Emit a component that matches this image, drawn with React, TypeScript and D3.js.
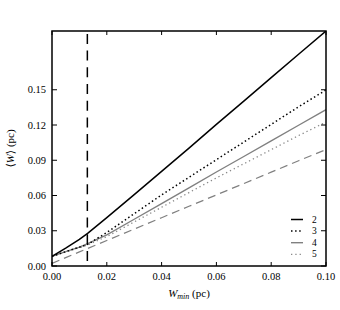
import * as d3 from "d3";

// W_min (pc) sample points shared by every series
const wMin = [0, 0.005, 0.01, 0.013, 0.02, 0.03, 0.04, 0.05, 0.06, 0.07, 0.08, 0.09, 0.1];

const series2 = [0.0083, 0.0152, 0.0226, 0.0278, 0.0412, 0.0608, 0.0805, 0.1003, 0.1205, 0.1403, 0.1603, 0.1802, 0.2];
const series3 = [0.0083, 0.0122, 0.016, 0.0184, 0.0285, 0.0445, 0.0605, 0.0755, 0.0905, 0.1055, 0.1205, 0.1355, 0.1498];
const series4 = [0.0083, 0.0122, 0.016, 0.019, 0.0265, 0.0398, 0.053, 0.0665, 0.08, 0.0932, 0.1065, 0.1198, 0.133];
const series5 = [0.0083, 0.012, 0.0155, 0.018, 0.025, 0.0375, 0.05, 0.0625, 0.075, 0.087, 0.099, 0.111, 0.1225];
const identity = [0.0022, 0.0071, 0.012, 0.0149, 0.0217, 0.0314, 0.0411, 0.0508, 0.0605, 0.0702, 0.0799, 0.0896, 0.0991];

const cutoff = 0.0129;

const xTicks = [0, 0.02, 0.04, 0.06, 0.08, 0.1];
const yTicks = [0, 0.03, 0.06, 0.09, 0.12, 0.15];

const legendLabels = ["2", "3", "4", "5"];

const font = "'Liberation Serif', 'DejaVu Serif', serif";

export default function App() {
  const width = 340;
  const height = 310;
  const margin = { left: 52, right: 14, top: 31, bottom: 44 };

  const x = d3.scaleLinear().domain([0, 0.1]).range([margin.left, width - margin.right]);
  const y = d3.scaleLinear().domain([0, 0.2]).range([height - margin.bottom, margin.top]);

  const line = (vals: number[]) =>
    d3
      .line<number>()
      .x((_, i) => x(wMin[i]))
      .y((d) => y(d))(vals) ?? "";

  const lines = [
    { vals: identity, stroke: "#808080", width: 1.2, dash: "8,5", legend: false },
    { vals: series5, stroke: "#8a8a8a", width: 1.3, dash: "1.3,3", legend: true },
    { vals: series4, stroke: "#808080", width: 1.4, dash: "", legend: true },
    { vals: series3, stroke: "#000", width: 1.5, dash: "1.5,2.6", legend: true },
    { vals: series2, stroke: "#000", width: 1.5, dash: "", legend: true },
  ];
  const legendStyles = [lines[4], lines[3], lines[2], lines[1]];

  const x0 = margin.left;
  const x1 = width - margin.right;
  const y0 = height - margin.bottom;
  const y1 = margin.top;

  return (
    <>
      <style>{"body{margin:0}"}</style>
      <svg width={width} height={height} style={{ display: "block", background: "#fff" }}>
        <defs>
          <clipPath id="plot">
            <rect x={x0} y={y1} width={x1 - x0} height={y0 - y1} />
          </clipPath>
        </defs>
        <g clipPath="url(#plot)">
          {lines.map((l, i) => (
            <path
              key={i}
              d={line(l.vals)}
              fill="none"
              stroke={l.stroke}
              strokeWidth={l.width}
              strokeDasharray={l.dash || undefined}
            />
          ))}
          <line
            x1={x(cutoff)}
            x2={x(cutoff)}
            y1={y0}
            y2={y1}
            stroke="#000"
            strokeWidth={1.5}
            strokeDasharray="10,6.7"
            strokeDashoffset={-5}
          />
        </g>

        {/* ticks, pointing inward on all four sides */}
        {xTicks.map((t) => (
          <g key={"x" + t}>
            <line x1={x(t)} x2={x(t)} y1={y0} y2={y0 - 4} stroke="#000" strokeWidth={1} />
            <line x1={x(t)} x2={x(t)} y1={y1} y2={y1 + 4} stroke="#000" strokeWidth={1} />
            <text
              x={x(t)}
              y={y0 + 14}
              textAnchor="middle"
              fontFamily={font}
              fontSize={10.5}
              fill="#000"
            >
              {t.toFixed(2)}
            </text>
          </g>
        ))}
        {yTicks.map((t) => (
          <g key={"y" + t}>
            <line x1={x0} x2={x0 + 5} y1={y(t)} y2={y(t)} stroke="#000" strokeWidth={1} />
            <line x1={x1} x2={x1 - 5} y1={y(t)} y2={y(t)} stroke="#000" strokeWidth={1} />
            <text
              x={x0 - 6}
              y={y(t)}
              textAnchor="end"
              dominantBaseline="central"
              fontFamily={font}
              fontSize={10.5}
              fill="#000"
            >
              {t.toFixed(2)}
            </text>
          </g>
        ))}

        <rect x={x0} y={y1} width={x1 - x0} height={y0 - y1} fill="none" stroke="#000" strokeWidth={1.5} />

        {/* legend */}
        {legendLabels.map((lab, i) => {
          const ly = 219.5 + i * 11.6;
          const s = legendStyles[i];
          return (
            <g key={lab}>
              <line
                x1={291}
                x2={303}
                y1={ly}
                y2={ly}
                stroke={s.stroke}
                strokeWidth={s.width}
                strokeDasharray={s.dash || undefined}
              />
              <text x={312} y={ly} dominantBaseline="central" fontFamily={font} fontSize={9.5} fill="#000">
                {lab}
              </text>
            </g>
          );
        })}

        {/* axis labels */}
        <text
          x={(x0 + x1) / 2}
          y={297}
          textAnchor="middle"
          fontFamily={font}
          fontSize={11}
          fill="#000"
        >
          <tspan fontStyle="italic">W</tspan>
          <tspan fontStyle="italic" fontSize={8} dy={2}>
            min
          </tspan>
          <tspan dy={-2}> (pc)</tspan>
        </text>
        <text
          transform={`translate(14, ${(y0 + y1) / 2}) rotate(-90)`}
          textAnchor="middle"
          fontFamily={font}
          fontSize={11}
          fill="#000"
        >
          ⟨<tspan fontStyle="italic">W</tspan>⟩ (pc)
        </text>
      </svg>
    </>
  );
}
